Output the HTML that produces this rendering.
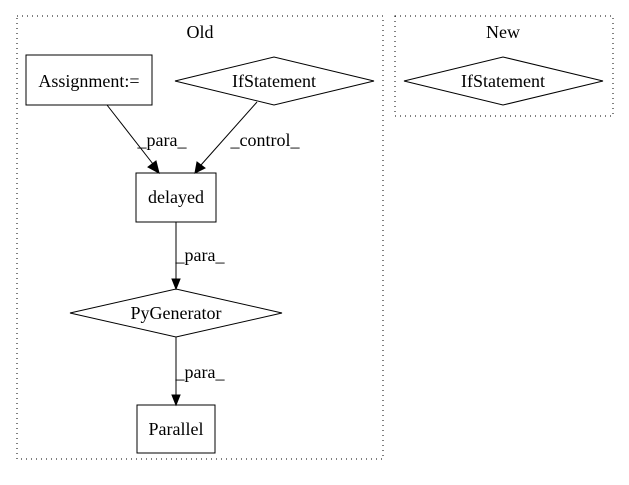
<!DOCTYPE html>
<html><head><meta charset="utf-8"><style>body{margin:0;background:#fff}</style></head><body>
<svg width="629" height="480" viewBox="0 0 629 480" xmlns="http://www.w3.org/2000/svg" font-family="Liberation Serif, serif" font-size="18">
<rect width="629" height="480" fill="#fff"/>
<rect x="17" y="16" width="366" height="443" fill="none" stroke="#000" stroke-dasharray="1,4"/>
<text x="200" y="38" text-anchor="middle">Old</text>
<rect x="395" y="16" width="218" height="100" fill="none" stroke="#000" stroke-dasharray="1,4"/>
<text x="503" y="38" text-anchor="middle">New</text>
<polygon points="404,81 503,57 603,81 503,105" fill="none" stroke="#000"/>
<text x="503" y="87" text-anchor="middle">IfStatement</text>
<rect x="26" y="55" width="126" height="50" fill="none" stroke="#000"/>
<text x="89" y="87" text-anchor="middle">Assignment:=</text>
<polygon points="175,81 274,57 374,81 274,105" fill="none" stroke="#000"/>
<text x="274" y="87" text-anchor="middle">IfStatement</text>
<rect x="136" y="173" width="80" height="49" fill="none" stroke="#000"/>
<text x="176" y="203" text-anchor="middle">delayed</text>
<polygon points="70,313 176,289 282,313 176,337" fill="none" stroke="#000"/>
<text x="176" y="319" text-anchor="middle">PyGenerator</text>
<rect x="137" y="405" width="78" height="48" fill="none" stroke="#000"/>
<text x="176" y="435" text-anchor="middle">Parallel</text>
<g stroke="#000" fill="#000">
<line x1="107" y1="105" x2="153" y2="164"/>
<polygon points="148,167 159,173 156,161"/>
<line x1="257" y1="102" x2="201" y2="165"/>
<polygon points="197,162 195,173 205,168"/>
<line x1="176" y1="222" x2="176" y2="279"/>
<polygon points="172,279 180,279 176,289"/>
<line x1="176" y1="337" x2="176" y2="395"/>
<polygon points="172,395 180,395 176,405"/>
</g>
<text x="162" y="146" text-anchor="middle">_para_</text>
<text x="265" y="146" text-anchor="middle">_control_</text>
<text x="200" y="261" text-anchor="middle">_para_</text>
<text x="200" y="378" text-anchor="middle">_para_</text>
</svg>
</body></html>
